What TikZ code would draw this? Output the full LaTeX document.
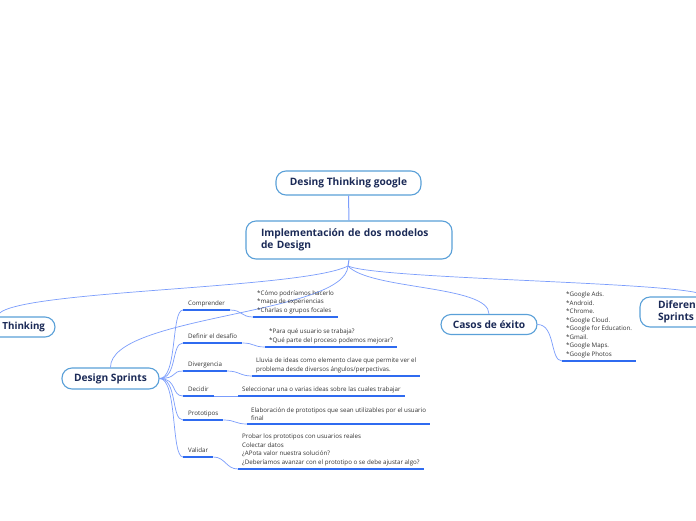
\documentclass[tikz,border=0pt]{standalone}
\usepackage{fontspec}
\setmainfont{Open Sans}

\definecolor{boxline}{HTML}{5AA0D8}
\definecolor{linkcol}{HTML}{7B9DFC}
\definecolor{ulcol}{HTML}{2F6BF0}
\definecolor{navy}{HTML}{1B2A57}
\definecolor{txt}{HTML}{333333}

\begin{document}
\begin{tikzpicture}[x=1pt, y=-1pt,
    topic/.style={draw=boxline, line width=1.1pt, rounded corners=10pt, fill=white, text=navy, font=\bfseries\fontsize{10.2}{12.5}\selectfont},
    subtopic/.style={anchor=south west, inner xsep=5pt, inner ysep=3pt, text height=4.5pt, text depth=1.5pt, text=txt, font=\fontsize{6.2}{8.5}\selectfont},
    detail/.style={anchor=south west, inner xsep=4pt, inner ysep=3pt, align=left, text=txt, font=\fontsize{6.2}{8.5}\selectfont},
    link/.style={draw=linkcol, line width=0.7pt},
    under/.style={draw=ulcol, line width=1.8pt}]
    \useasboundingbox (0,0) rectangle (696,520);
    \fill[white] (0,0) rectangle (696,520);
    \clip (0,0) rectangle (696,520);

    % Main topics
    \node[topic, minimum width=145pt, minimum height=24pt] (google) at (348.5,183) {Desing Thinking google};
    \node[topic, minimum height=38pt, text width=176pt, inner xsep=15pt, align=left] (impl) at (349,240) {Implementación de dos modelos\\de Design};
    \coordinate (hub) at (348,266);
    \node[topic, minimum height=20pt, text width=95pt, inner xsep=10pt, align=right, font=\bfseries\fontsize{9.8}{12.5}\selectfont] (thinking) at (-2.5,327) {Thinking};
    \node[topic, minimum width=97pt, minimum height=21pt] (sprints) at (110.5,378.5) {Design Sprints};
    \node[topic, minimum width=96pt, minimum height=20pt] (casos) at (489,324.5) {Casos de éxito};
    \node[topic, minimum height=30pt, text width=94pt, inner xsep=18pt, align=left] (difer) at (705,312) {Diferenc\\Sprints};

    \draw[link, line width=1pt] (google.south) -- (impl.north);
    \draw[link, line width=1pt] (impl.south) -- (hub);
    \draw[link] (hub) .. controls (300,290) and (0,290) .. (thinking.north);
    \draw[link] (hub) .. controls (345,315) and (110,315) .. (sprints.north);
    \draw[link] (hub) .. controls (370,290) and (489,285) .. (casos.north);
    \draw[link] (hub) .. controls (380,280) and (705,282) .. (difer.north);

    % Design Sprints steps
    \node[subtopic] (comp) at (183,310) {Comprender};
    \node[subtopic] (defi) at (183,343) {Definir el desafío};
    \node[subtopic] (dive) at (183,371) {Divergencia};
    \node[subtopic] (deci) at (183,396) {Decidir};
    \node[subtopic] (prot) at (183,420) {Prototipos};
    \node[subtopic] (vali) at (183,457) {Validar};

    \node[detail] (compd) at (253,317) {*Cómo podríamos hacerlo\\*mapa de experiencias\\*Charlas o grupos focales};
    \node[detail] (defid) at (265,347) {*Para qué usuario se trabaja?\\*Qué parte del proceso podemos mejorar?};
    \node[detail] (dived) at (252,376) {Lluvia de ideas como elemento clave que permite ver el\\problema desde diversos ángulos/perpectivas.};
    \node[detail] (decid) at (238,396) {Seleccionar una o varias ideas sobre las cuales trabajar};
    \node[detail] (protd) at (247,424) {Elaboración de prototipos que sean utilizables por el usuario\\final};
    \node[detail] (valid) at (238,469) {Probar los prototipos con usuarios reales\\Colectar datos\\¿APota valor nuestra solución?\\¿Deberíamos avanzar con el prototipo o se debe ajustar algo?};

    \draw[link] (sprints.east) .. controls +(18,0) and +(-12,0) .. (comp.south west);
    \draw[link] (sprints.east) .. controls +(18,0) and +(-12,0) .. (defi.south west);
    \draw[link] (sprints.east) .. controls +(18,0) and +(-12,0) .. (dive.south west);
    \draw[link] (sprints.east) .. controls +(18,0) and +(-12,0) .. (deci.south west);
    \draw[link] (sprints.east) .. controls +(18,0) and +(-12,0) .. (prot.south west);
    \draw[link] (sprints.east) .. controls +(18,0) and +(-12,0) .. (vali.south west);

    \draw[link] (comp.south east) .. controls +(12,0) and +(-12,0) .. (compd.south west);
    \draw[link] (defi.south east) .. controls +(12,0) and +(-12,0) .. (defid.south west);
    \draw[link] (dive.south east) .. controls +(12,0) and +(-12,0) .. (dived.south west);
    \draw[link] (deci.south east) -- (decid.south west);
    \draw[link] (prot.south east) .. controls +(12,0) and +(-12,0) .. (protd.south west);
    \draw[link] (vali.south east) .. controls +(12,0) and +(-12,0) .. (valid.south west);

    % Casos de exito
    \node[detail] (casosd) at (562,361) {*Google Ads.\\*Android.\\*Chrome.\\*Google Cloud.\\*Google for Education.\\*Gmail.\\*Google Maps.\\*Google Photos};
    \draw[link] (casos.east) .. controls +(18,0) and +(-12,0) .. (casosd.south west);

    \draw[under] (comp.south west) -- (comp.south east);
    \draw[under] (defi.south west) -- (defi.south east);
    \draw[under] (dive.south west) -- (dive.south east);
    \draw[under] (deci.south west) -- (deci.south east);
    \draw[under] (prot.south west) -- (prot.south east);
    \draw[under] (vali.south west) -- (vali.south east);
    \draw[under] (compd.south west) -- (compd.south east);
    \draw[under] (defid.south west) -- (defid.south east);
    \draw[under] (dived.south west) -- (dived.south east);
    \draw[under] (decid.south west) -- (decid.south east);
    \draw[under] (protd.south west) -- (protd.south east);
    \draw[under] (valid.south west) -- (valid.south east);
    \draw[under] (casosd.south west) -- (casosd.south east);
\end{tikzpicture}
\end{document}
